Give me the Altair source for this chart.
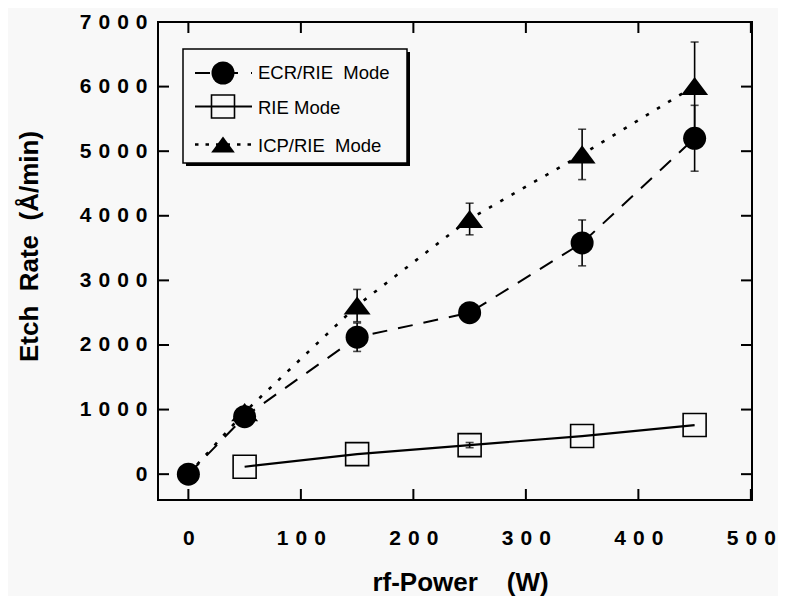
import altair as alt
import pandas as pd

# ---------------- data ----------------
power = [0, 50, 150, 250, 350, 450]
ecr_rate = [0, 890, 2120, 2500, 3580, 5200]
ecr_err = [0, 0, 220, 0, 355, 510]

rie_power = [50, 150, 250, 350, 450]
rie_rate = [115, 310, 450, 590, 760]
rie_err = [0, 0, 40, 0, 0]

icp_rate = [0, 960, 2610, 3950, 4950, 6010]
icp_err = [0, 0, 250, 245, 390, 680]

series_names = ["ECR/RIE\u00a0 Mode", "RIE Mode", "ICP/RIE\u00a0 Mode"]

x_ticks = [0, 100, 200, 300, 400, 500]
y_ticks = [0, 1000, 2000, 3000, 4000, 5000, 6000, 7000]
x_domain = [-27, 501]
y_domain = [-400, 7000]
x_title = "rf-Power\u00a0\u00a0\u00a0 (W)"
y_title = "Etch\u00a0 Rate\u00a0 (Å/min)"

# ---------------- layout / style ----------------
W, H = 594, 478
FONT = "Liberation Sans"
BG = "#f8f8f8"
TICK = 11
SP = "\u2004"

xs = alt.Scale(domain=x_domain, nice=False, zero=False)
ys = alt.Scale(domain=y_domain, nice=False, zero=False)

# spaced-out digits, as in the scanned original
x_label_expr = f"datum.value == 0 ? '0' : (datum.value / 100) + '{SP}0{SP}0'"
y_label_expr = f"datum.value == 0 ? '0' : (datum.value / 1000) + '{SP}0{SP}0{SP}0'"


def frame(p, r, e):
    df = pd.DataFrame({"p": p, "r": r, "e": e})
    df["lo"] = df["r"] - df["e"]
    df["hi"] = df["r"] + df["e"]
    return df


ecr = frame(power, ecr_rate, ecr_err)
rie = frame(rie_power, rie_rate, rie_err)
icp = frame(power, icp_rate, icp_err)

x_axis = alt.Axis(values=x_ticks, labelExpr=x_label_expr, title=x_title,
                  domain=False, ticks=False, grid=False, labelPadding=27,
                  labelFont=FONT, labelFontSize=21, labelFontWeight="bold", labelColor="black",
                  titleFont=FONT, titleFontSize=26, titleFontWeight="bold", titleColor="black",
                  titleX=302, titleY=90, titleBaseline="alphabetic")
y_axis = alt.Axis(values=y_ticks, labelExpr=y_label_expr, title=y_title,
                  domain=False, ticks=False, grid=False, labelPadding=11,
                  labelFont=FONT, labelFontSize=21, labelFontWeight="bold", labelColor="black",
                  titleFont=FONT, titleFontSize=26, titleFontWeight="bold", titleColor="black",
                  titleAngle=270, titleX=-129, titleY=224, titleAlign="center",
                  titleBaseline="middle")


def X(field="p"):
    return alt.X(f"{field}:Q", scale=xs, axis=x_axis)


def Y(field="r"):
    return alt.Y(f"{field}:Q", scale=ys, axis=y_axis)


# lines
icp_line = alt.Chart(icp).mark_line(color="black", strokeWidth=2.6, strokeDash=[3.5, 9.5]).encode(
    x=X(), y=Y())
ecr_line = alt.Chart(ecr).mark_line(color="black", strokeWidth=2, strokeDash=[15, 11]).encode(
    x=X(), y=Y())
rie_line = alt.Chart(rie).mark_line(color="black", strokeWidth=2.2).encode(x=X(), y=Y())


def errbars(df):
    d = df[df["e"] > 0]
    rule = alt.Chart(d).mark_rule(color="black", strokeWidth=1.6).encode(
        x=X(), y=Y("lo"), y2="hi:Q")
    cap_lo = alt.Chart(d).mark_tick(color="black", orient="horizontal", size=8, thickness=1.6).encode(
        x=X(), y=Y("lo"))
    cap_hi = alt.Chart(d).mark_tick(color="black", orient="horizontal", size=8, thickness=1.6).encode(
        x=X(), y=Y("hi"))
    return [rule, cap_lo, cap_hi]


TRI = "M-1,0.67L1,0.67L0,-0.67Z"

icp_pts = alt.Chart(icp[icp["p"] > 0]).mark_point(shape=TRI, size=729, filled=True, color="black",
                                                  opacity=1).encode(x=X(), y=Y())
ecr_pts = alt.Chart(ecr).mark_point(shape="circle", size=529, filled=True, color="black", opacity=1).encode(
    x=X(), y=Y())
rie_pts = alt.Chart(rie).mark_point(shape="square", size=529, filled=False, color="black",
                                    strokeWidth=1.6, opacity=1).encode(x=X(), y=Y())

# frame ticks (inward, all four sides)
xt = pd.DataFrame({"v": x_ticks})
yt = pd.DataFrame({"v": y_ticks})
ticks_bottom = alt.Chart(xt).mark_rule(color="black", strokeWidth=2).encode(
    x=X("v"), y=alt.value(H - TICK), y2=alt.value(H))
ticks_top = alt.Chart(xt).mark_rule(color="black", strokeWidth=2).encode(
    x=X("v"), y=alt.value(0), y2=alt.value(TICK))
ticks_left = alt.Chart(yt).mark_rule(color="black", strokeWidth=2).encode(
    y=Y("v"), x=alt.value(0), x2=alt.value(TICK))
ticks_right = alt.Chart(yt).mark_rule(color="black", strokeWidth=2).encode(
    y=Y("v"), x=alt.value(W - TICK), x2=alt.value(W))

# ---------------- legend (drawn by hand) ----------------
one = pd.DataFrame({"a": [0]})
box_shadow = alt.Chart(one).mark_rect(color="black").encode(
    x=alt.value(28), x2=alt.value(252), y=alt.value(30), y2=alt.value(144))
box = alt.Chart(one).mark_rect(fill=BG, stroke="black", strokeWidth=1.5).encode(
    x=alt.value(25), x2=alt.value(249), y=alt.value(27), y2=alt.value(141))

row_sym_y = [51, 84.5, 122.5]
row_txt_y = [57, 91.5, 130]
row_dash = [[15, 13], None, [3.5, 7]]
row_width = [2, 2.2, 2.6]
legend_layers = [box_shadow, box]
for i, name in enumerate(series_names):
    d = pd.DataFrame({"name": [name]})
    kw = dict(color="black", strokeWidth=row_width[i])
    if row_dash[i] is not None:
        kw["strokeDash"] = row_dash[i]
    legend_layers.append(alt.Chart(d).mark_rule(**kw).encode(
        x=alt.value(37), x2=alt.value(94), y=alt.value(row_sym_y[i])))
    if i == 0:
        sym = alt.Chart(d).mark_point(shape="circle", size=529, filled=True, color="black", opacity=1)
    elif i == 1:
        sym = alt.Chart(d).mark_point(shape="square", size=529, filled=False, color="black",
                                      strokeWidth=1.6, opacity=1)
    else:
        sym = alt.Chart(d).mark_point(shape=TRI, size=560, filled=True, color="black", opacity=1)
    legend_layers.append(sym.encode(x=alt.value(65), y=alt.value(row_sym_y[i])))
    legend_layers.append(alt.Chart(d).mark_text(align="left", baseline="alphabetic", font=FONT,
                                                fontSize=18.5, color="black").encode(
        x=alt.value(100), y=alt.value(row_txt_y[i]), text="name:N"))

layers = [icp_line, ecr_line, rie_line]
layers += errbars(icp) + errbars(ecr) + errbars(rie)
layers += [icp_pts, ecr_pts, rie_pts, ticks_bottom, ticks_top, ticks_left, ticks_right]
layers += legend_layers

chart = alt.layer(*layers).properties(
    width=W, height=H,
    autosize=alt.AutoSizeParams(type="none"),
    padding={"left": 150, "top": 14, "right": 26, "bottom": 96},
    background=BG,
).configure_view(stroke="black", strokeWidth=2)

chart.save("out.html", embed_options={"renderer": "svg", "actions": False})
